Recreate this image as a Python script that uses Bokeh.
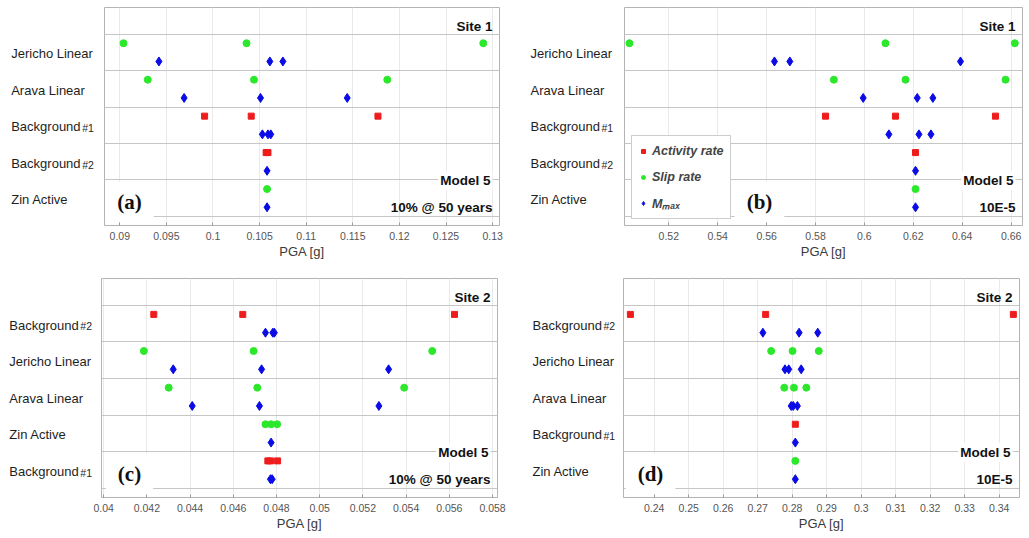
from bokeh.plotting import figure
from bokeh.layouts import row, column
from bokeh.models import (Range1d, FixedTicker, NumeralTickFormatter, Label,
                          Legend, LegendItem, ColumnDataSource)
from bokeh.core.properties import value
from bokeh.embed import file_html
from bokeh.resources import INLINE

# ---------------- data ----------------
# (a) Site 1, Model 5, 10% @ 50 years
a_rows = ["Jericho Linear", "Arava Linear", "Background #1", "Background #2", "Zin Active"]
a_act_row = ["Background #1", "Background #1", "Background #1", "Background #2", "Background #2"]
a_act_pga = [0.0991, 0.1041, 0.1177, 0.1057, 0.1059]
a_slip_row = ["Jericho Linear", "Jericho Linear", "Jericho Linear",
              "Arava Linear", "Arava Linear", "Arava Linear", "Zin Active"]
a_slip_pga = [0.0904, 0.1036, 0.1290, 0.0930, 0.1044, 0.1187, 0.1058]
a_mmax_row = ["Jericho Linear", "Jericho Linear", "Jericho Linear",
              "Arava Linear", "Arava Linear", "Arava Linear",
              "Background #1", "Background #1", "Background #1",
              "Background #2", "Zin Active"]
a_mmax_pga = [0.0942, 0.1061, 0.1075, 0.0969, 0.1051, 0.1144,
              0.1053, 0.1059, 0.1062, 0.1058, 0.1058]
a_ticks = [0.09, 0.095, 0.1, 0.105, 0.11, 0.115, 0.12, 0.125, 0.13]

# (b) Site 1, Model 5, 10E-5
b_rows = ["Jericho Linear", "Arava Linear", "Background #1", "Background #2", "Zin Active"]
b_act_row = ["Background #1", "Background #1", "Background #1", "Background #2"]
b_act_pga = [0.5841, 0.6127, 0.6536, 0.6209]
b_slip_row = ["Jericho Linear", "Jericho Linear", "Jericho Linear",
              "Arava Linear", "Arava Linear", "Arava Linear", "Zin Active"]
b_slip_pga = [0.5039, 0.6086, 0.6615, 0.5875, 0.6168, 0.6577, 0.6209]
b_mmax_row = ["Jericho Linear", "Jericho Linear", "Jericho Linear",
              "Arava Linear", "Arava Linear", "Arava Linear",
              "Background #1", "Background #1", "Background #1",
              "Background #2", "Zin Active"]
b_mmax_pga = [0.5632, 0.5695, 0.6393, 0.5995, 0.6216, 0.6280,
              0.6100, 0.6223, 0.6272, 0.6209, 0.6209]
b_ticks = [0.52, 0.54, 0.56, 0.58, 0.6, 0.62, 0.64, 0.66]

# (c) Site 2, Model 5, 10% @ 50 years
c_rows = ["Background #2", "Jericho Linear", "Arava Linear", "Zin Active", "Background #1"]
c_act_row = ["Background #2", "Background #2", "Background #2",
             "Background #1", "Background #1", "Background #1"]
c_act_pga = [0.04232, 0.04644, 0.05624, 0.04760, 0.04772, 0.04805]
c_slip_row = ["Jericho Linear", "Jericho Linear", "Jericho Linear",
              "Arava Linear", "Arava Linear", "Arava Linear",
              "Zin Active", "Zin Active", "Zin Active"]
c_slip_pga = [0.04186, 0.04694, 0.05521, 0.04301, 0.04711, 0.05391,
              0.04749, 0.04775, 0.04803]
c_mmax_row = ["Background #2", "Background #2", "Background #2",
              "Jericho Linear", "Jericho Linear", "Jericho Linear",
              "Arava Linear", "Arava Linear", "Arava Linear",
              "Zin Active", "Background #1", "Background #1"]
c_mmax_pga = [0.04749, 0.04783, 0.04790, 0.04322, 0.04731, 0.05319,
              0.04410, 0.04721, 0.05274, 0.04775, 0.04772, 0.04780]
c_ticks = [0.04, 0.042, 0.044, 0.046, 0.048, 0.05, 0.052, 0.054, 0.056, 0.058]

# (d) Site 2, Model 5, 10E-5
d_rows = ["Background #2", "Jericho Linear", "Arava Linear", "Background #1", "Zin Active"]
d_act_row = ["Background #2", "Background #2", "Background #2", "Background #1"]
d_act_pga = [0.2331, 0.2723, 0.3441, 0.2809]
d_slip_row = ["Jericho Linear", "Jericho Linear", "Jericho Linear",
              "Arava Linear", "Arava Linear", "Arava Linear", "Zin Active"]
d_slip_pga = [0.2739, 0.2801, 0.2877, 0.2777, 0.2805, 0.2841, 0.2809]
d_mmax_row = ["Background #2", "Background #2", "Background #2",
              "Jericho Linear", "Jericho Linear", "Jericho Linear",
              "Arava Linear", "Arava Linear", "Arava Linear",
              "Background #1", "Zin Active"]
d_mmax_pga = [0.2715, 0.2820, 0.2874, 0.2779, 0.2790, 0.2826,
              0.2797, 0.2803, 0.2815, 0.2809, 0.2809]
d_ticks = [0.24, 0.25, 0.26, 0.27, 0.28, 0.29, 0.3, 0.31, 0.32, 0.33, 0.34]

RED = "#ee1c1c"
GREEN = "#2be82b"
BLUE = "#0b0be6"
FONT = "Liberation Sans"


def make_labels(rows, yr, lx, width, height, bt, bb):
    """Narrow figure that holds the left-aligned category names."""
    n = len(rows)
    f = figure(width=width, height=height, x_range=Range1d(0, width), y_range=yr,
               output_backend="svg", toolbar_location=None,
               min_border_left=0, min_border_right=0, min_border_top=bt,
               min_border_bottom=bb)
    f.axis.visible = False
    f.grid.visible = False
    f.outline_line_color = None
    main_x, main_y, main_t = [], [], []
    sub_x, sub_y, sub_t = [], [], []
    for i, r in enumerate(rows):
        yc = n - i - 0.5 - 0.04
        if " #" in r:
            m, s = r.split(" #")
            main_x.append(lx); main_y.append(yc); main_t.append(m)
            sub_x.append(lx + 71); sub_y.append(yc - 0.04); sub_t.append("#" + s)
        else:
            main_x.append(lx); main_y.append(yc); main_t.append(r)
    f.text(x=main_x, y=main_y, text=main_t, text_font=value(FONT),
           text_font_size=value("13px"), text_color="#1e1e1e",
           text_baseline="middle", text_align="left")
    f.text(x=sub_x, y=sub_y, text=sub_t, text_font=value(FONT),
           text_font_size=value("10.5px"), text_color="#1e1e1e",
           text_baseline="middle", text_align="left")
    return f


def make_panel(rows, act_row, act_pga, slip_row, slip_pga, mmax_row, mmax_pga,
               ticks, xr, yr, fmt, site, prob, letter, letter_x,
               width, height, bl, br, bt, bb, legend=False):
    n = len(rows)
    idx = {r: i for i, r in enumerate(rows)}
    up = lambda names: [n - idx[r] - 0.25 for r in names]
    lo = lambda names: [n - idx[r] - 0.75 for r in names]

    p = figure(width=width, height=height, x_range=Range1d(*xr), y_range=yr,
               output_backend="svg", toolbar_location=None,
               min_border_left=bl, min_border_right=br,
               min_border_top=bt, min_border_bottom=bb)
    p.yaxis.visible = False
    p.outline_line_color = "#b4b4b4"
    p.outline_line_width = 1

    tk = FixedTicker(ticks=ticks)
    p.xaxis.ticker = tk
    p.xaxis.formatter = NumeralTickFormatter(format=fmt)
    p.xaxis.axis_label = "PGA [g]"
    p.xaxis.axis_label_text_font = FONT
    p.xaxis.axis_label_text_font_style = "normal"
    p.xaxis.axis_label_text_font_size = "13px"
    p.xaxis.axis_label_text_color = "#3a3a3a"
    p.xaxis.axis_label_standoff = 1
    p.xaxis.major_label_text_font = FONT
    p.xaxis.major_label_text_font_size = "10.5px"
    p.xaxis.major_label_text_color = "#555555"
    p.xaxis.major_label_standoff = 6
    p.xaxis.major_tick_in = 3
    p.xaxis.major_tick_out = 0
    p.xaxis.major_tick_line_color = "#9a9a9a"
    p.xaxis.axis_line_color = "#b4b4b4"

    p.xgrid.ticker = tk
    p.xgrid.grid_line_color = "#e9e9e9"
    p.ygrid.ticker = FixedTicker(ticks=list(range(0, n + 1)))
    p.ygrid.grid_line_color = "#c6c6c6"
    p.ygrid.grid_line_width = 1

    s_act = ColumnDataSource(dict(x=act_pga, y=up(act_row)))
    s_slip = ColumnDataSource(dict(x=slip_pga, y=up(slip_row)))
    s_mmax = ColumnDataSource(dict(x=mmax_pga, y=lo(mmax_row)))
    r_act = p.scatter("x", "y", source=s_act, marker="square", size=6,
                      fill_color=RED, line_color=RED)
    r_slip = p.scatter("x", "y", source=s_slip, marker="circle", size=7,
                       fill_color=GREEN, line_color=GREEN)
    r_mmax = p.scatter("x", "y", source=s_mmax, marker="diamond", size=9,
                       fill_color=BLUE, line_color=BLUE)

    fw = width - bl - br
    p.add_layout(Label(x=fw - 7, y=n + 0.22, x_units="screen", text=site,
                       text_font=FONT, text_font_style="bold", text_font_size="13.5px",
                       text_align="right", text_baseline="middle", text_color="#111111"))
    p.add_layout(Label(x=fw - 7, y=0.98, x_units="screen", text="Model 5",
                       text_font=FONT, text_font_style="bold", text_font_size="13.5px",
                       text_align="right", text_baseline="middle", text_color="#111111",
                       background_fill_color="white", padding=2))
    p.add_layout(Label(x=fw - 7, y=0.24, x_units="screen", text=prob,
                       text_font=FONT, text_font_style="bold", text_font_size="13.5px",
                       text_align="right", text_baseline="middle", text_color="#111111"))
    p.add_layout(Label(x=letter_x, y=0.4, x_units="screen", text=letter,
                       text_font="Liberation Serif", text_font_style="bold",
                       text_font_size="21px", text_align="center",
                       text_baseline="middle", text_color="#111111",
                       background_fill_color="white", padding=(12, 8)))

    if legend:
        lg = Legend(items=[LegendItem(label="Activity rate", renderers=[r_act]),
                           LegendItem(label="Slip rate", renderers=[r_slip]),
                           LegendItem(label="M\u2098\u2090\u2093", renderers=[r_mmax])],
                    location=(7, 6), label_text_font=FONT,
                    label_text_font_style="bold italic", label_text_font_size="12.5px",
                    glyph_width=10, glyph_height=18, label_height=18,
                    label_standoff=4, spacing=8, padding=6, margin=0,
                    border_line_color="#9c9c9c", background_fill_alpha=1.0)
        p.add_layout(lg)
    return p


# ---------------- layout ----------------
N = 5
H_TOP, BT_TOP, BB_TOP = 270, 7, 45      # top row: frame 7 -> 225
H_BOT, BT_BOT, BB_BOT = 263, 8, 36      # bottom row: frame 278 -> 497

yr_a = Range1d(-0.25, N + 0.73)
yr_b = Range1d(-0.25, N + 0.73)
yr_c = Range1d(-0.25, N + 0.73)
yr_d = Range1d(-0.25, N + 0.73)

# top row: labels | panel a | labels | panel b
la = make_labels(a_rows, yr_a, 10.7, 99, H_TOP, BT_TOP, BB_TOP)
pa = make_panel(a_rows, a_act_row, a_act_pga, a_slip_row, a_slip_pga, a_mmax_row, a_mmax_pga,
                a_ticks, (0.08836, 0.13074), yr_a, "0.[000]", "Site 1", "10% @ 50 years", "(a)",
                25, 410, H_TOP, 5, 10, BT_TOP, BB_TOP)
lb = make_labels(b_rows, yr_b, 21, 110, H_TOP, BT_TOP, BB_TOP)
pb = make_panel(b_rows, b_act_row, b_act_pga, b_slip_row, b_slip_pga, b_mmax_row, b_mmax_pga,
                b_ticks, (0.50188, 0.66465), yr_b, "0.[00]", "Site 1", "10E-5", "(b)",
                135, 408, H_TOP, 5, 5, BT_TOP, BB_TOP, legend=True)

# bottom row: labels | panel c | labels | panel d
lc = make_labels(c_rows, yr_c, 8.8, 93, H_BOT, BT_BOT, BB_BOT)
pc = make_panel(c_rows, c_act_row, c_act_pga, c_slip_row, c_slip_pga, c_mmax_row, c_mmax_pga,
                c_ticks, (0.0399, 0.05823), yr_c, "0.[000]", "Site 2", "10% @ 50 years", "(c)",
                28, 416, H_BOT, 8, 12, BT_BOT, BB_BOT)
ld = make_labels(d_rows, yr_d, 23, 109, H_BOT, BT_BOT, BB_BOT)
pd_ = make_panel(d_rows, d_act_row, d_act_pga, d_slip_row, d_slip_pga, d_mmax_row, d_mmax_pga,
                 d_ticks, (0.2311, 0.34588), yr_d, "0.[00]", "Site 2", "10E-5", "(d)",
                 27, 409, H_BOT, 5, 8, BT_BOT, BB_BOT)

layout = column(row(la, pa, lb, pb), row(lc, pc, ld, pd_))
open("out.html", "w").write(file_html(layout, INLINE))
